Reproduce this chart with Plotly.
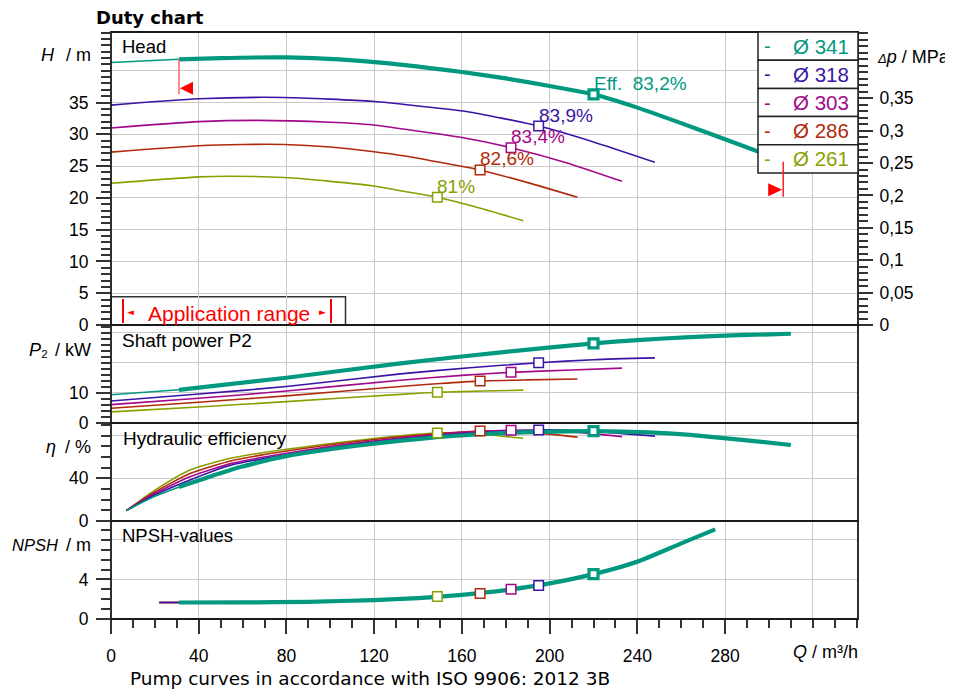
import numpy as np
import plotly.graph_objects as go

# ---------------- data ----------------
diameters = ["Ø 341", "Ø 318", "Ø 303", "Ø 286", "Ø 261"]
colors = ["#00997f", "#3a14a6", "#a4088a", "#b02a0c", "#8a9f00"]
eff_labels = ["Eff.\u00a0\u00a083,2%", "83,9%", "83,4%", "82,6%", "81%"]

# Head H / m
head_q_341 = [0, 31, 50, 80, 104, 134, 160, 180, 200, 220, 240, 266, 295, 310]
head_h_341 = [41.3, 41.8, 42.0, 42.1, 41.8, 40.9, 39.8, 38.8, 37.6, 36.3, 34.2, 31.0, 27.3, 25.2]
head_q_318 = [0, 40, 79, 119, 134, 162, 195, 220, 248]
head_h_318 = [34.6, 35.6, 35.8, 35.2, 34.7, 33.6, 31.3, 28.8, 25.6]
head_q_303 = [0, 40, 67, 100, 119, 134, 160, 182.4, 208, 233]
head_h_303 = [31.0, 32.0, 32.2, 31.9, 31.5, 30.8, 29.5, 27.9, 25.5, 22.6]
head_q_286 = [0, 40, 60, 79, 100, 119, 134, 150, 168.3, 190, 212.7]
head_h_286 = [27.2, 28.2, 28.4, 28.4, 28.0, 27.3, 26.6, 25.6, 24.4, 22.4, 20.1]
head_q_261 = [0, 40, 54, 79, 100, 119, 134, 148.8, 168, 188]
head_h_261 = [22.3, 23.3, 23.4, 23.2, 22.6, 21.9, 21.0, 20.1, 18.4, 16.4]

# Shaft power P2 / kW
pow_q_341 = [0, 31, 80, 132, 180, 220, 240, 264, 290, 310]
pow_p_341 = [9.4, 11.0, 15.0, 19.8, 23.6, 26.4, 27.5, 28.5, 29.2, 29.6]
pow_q_318 = [0, 40, 80, 132, 165, 195, 220, 248]
pow_p_318 = [7.3, 9.6, 12.1, 16.3, 18.4, 20.0, 21.0, 21.6]
pow_q_303 = [0, 40, 80, 132, 160, 182.4, 210, 233]
pow_p_303 = [6.1, 8.2, 10.6, 14.2, 15.8, 16.8, 17.6, 18.2]
pow_q_286 = [0, 40, 80, 132, 150, 168.3, 190, 212.7]
pow_p_286 = [4.9, 6.9, 9.0, 12.1, 13.1, 13.9, 14.3, 14.6]
pow_q_261 = [0, 40, 80, 132, 148.8, 170, 188]
pow_p_261 = [3.7, 5.3, 7.1, 9.5, 10.2, 10.6, 10.9]

# Hydraulic efficiency / %
eff_q_341 = [7, 19, 31, 45, 59, 80, 112, 141, 170, 195, 220, 245, 264, 290, 310]
eff_e_341 = [9.7, 22.2, 31.8, 41.5, 50.5, 60.8, 70.5, 77.0, 81.5, 83.5, 84.2, 83.0, 80.6, 75.5, 71.2]
eff_q_318 = [7, 19, 36, 55, 80, 110, 141, 170, 195, 220, 248]
eff_e_318 = [9.7, 23.5, 38.5, 52.5, 62.0, 71.5, 78.5, 83.0, 85.3, 84.0, 79.5]
eff_q_303 = [7, 19, 36, 55, 80, 110, 141, 160, 182.4, 210, 233]
eff_e_303 = [9.7, 24.8, 41.5, 54.0, 63.5, 72.5, 79.5, 83.0, 85.0, 83.5, 79.0]
eff_q_286 = [7, 19, 36, 55, 80, 110, 141, 168.3, 190, 212.7]
eff_e_286 = [9.7, 26.0, 44.5, 56.5, 65.5, 74.0, 80.5, 84.3, 83.0, 78.6]
eff_q_261 = [7, 19, 36, 55, 80, 110, 130, 148.8, 170, 188]
eff_e_261 = [9.7, 27.5, 47.8, 59.0, 67.2, 75.0, 79.5, 82.5, 81.0, 77.5]

# NPSH / m
npsh_q_341 = [31, 60, 90, 120, 140, 160, 180, 200, 220, 240, 260, 275.5]
npsh_n_341 = [1.67, 1.68, 1.74, 1.92, 2.12, 2.45, 2.92, 3.6, 4.54, 5.8, 7.65, 9.07]
npsh_q_318 = [22, 31, 60, 90, 120, 140, 160, 180, 200, 220, 248]
npsh_n_318 = [1.67, 1.67, 1.68, 1.74, 1.92, 2.12, 2.45, 2.92, 3.6, 4.54, 6.5]
npsh_q_303 = [22, 31, 60, 90, 120, 140, 160, 180, 200, 233]
npsh_n_303 = [1.67, 1.67, 1.68, 1.74, 1.92, 2.12, 2.45, 2.92, 3.6, 5.35]
npsh_q_286 = [22, 31, 60, 90, 120, 140, 160, 180, 212.7]
npsh_n_286 = [1.67, 1.67, 1.68, 1.74, 1.92, 2.12, 2.45, 2.92, 4.2]
npsh_q_261 = [22, 31, 60, 90, 120, 140, 160, 188]
npsh_n_261 = [1.67, 1.67, 1.68, 1.74, 1.92, 2.12, 2.45, 3.15]

# duty points (best efficiency points)
bep_q = [220, 195, 182.4, 168.3, 148.8]
bep_head = [36.3, 31.3, 27.9, 24.4, 20.1]
bep_power = [26.4, 20.0, 16.8, 13.9, 10.2]
bep_eff = [84.2, 85.3, 85.0, 84.3, 82.5]
bep_npsh = [4.54, 3.39, 3.0, 2.58, 2.27]

# application range of the selected impeller (Q, m3/h)
app_range_q = [31, 306.5]

x_ticks = [0, 40, 80, 120, 160, 200, 240, 280, 320]
x_ticktext = ["0", "40", "80", "120", "160", "200", "240", "280", ""]
head_ticks = [0, 5, 10, 15, 20, 25, 30, 35, 40]
head_ticktext = ["0", "5", "10", "15", "20", "25", "30", "35", ""]
dp_ticks = [0, 0.05, 0.1, 0.15, 0.2, 0.25, 0.3, 0.35, 0.4, 0.45]
dp_ticktext = ["0", "0,05", "0,1", "0,15", "0,2", "0,25", "0,3", "0,35", "", ""]
pow_ticks = [0, 10, 20, 30]
pow_ticktext = ["0", "10", "", ""]
eff_ticks = [0, 40, 80]
eff_ticktext = ["0", "40", ""]
npsh_ticks = [0, 4, 8]
npsh_ticktext = ["0", "4", ""]

head_q = [head_q_341, head_q_318, head_q_303, head_q_286, head_q_261]
head_h = [head_h_341, head_h_318, head_h_303, head_h_286, head_h_261]
pow_q = [pow_q_341, pow_q_318, pow_q_303, pow_q_286, pow_q_261]
pow_p = [pow_p_341, pow_p_318, pow_p_303, pow_p_286, pow_p_261]
eff_q = [eff_q_341, eff_q_318, eff_q_303, eff_q_286, eff_q_261]
eff_e = [eff_e_341, eff_e_318, eff_e_303, eff_e_286, eff_e_261]
npsh_q = [npsh_q_341, npsh_q_318, npsh_q_303, npsh_q_286, npsh_q_261]
npsh_n = [npsh_n_341, npsh_n_318, npsh_n_303, npsh_n_286, npsh_n_261]

# ---------------- figure ----------------
FONT = "Liberation Sans, Arial, sans-serif"
VFONT = "DejaVu Sans, Verdana, sans-serif"
OFF = 8                       # page body margin of the html page
PX0, PX1, PY0, PY1 = 111, 858, 32, 619   # plot area in page pixels
W, H = 953 - OFF, 693 - OFF
L, T = PX0 - OFF, PY0 - OFF
PW, PH = PX1 - PX0, PY1 - PY0
R, B = W - L - PW, H - T - PH


def px(xp):
    return (xp - PX0) / PW


def py(yp):
    return (PY1 - yp) / PH


b1, b2, b3 = 98 / PH, 196 / PH, 294 / PH
RHO_G = 0.00981  # MPa per metre of head
HEAD_MAX = 46.1

fig = go.Figure()
panels = [("x", "y", head_q, head_h, bep_head),
          ("x2", "y2", pow_q, pow_p, bep_power),
          ("x3", "y3", eff_q, eff_e, bep_eff),
          ("x4", "y4", npsh_q, npsh_n, bep_npsh)]

for xa, ya, qs, vs, bep in panels:
    for i in range(4, -1, -1):
        q = np.array(qs[i], dtype=float)
        v = np.array(vs[i], dtype=float)
        if i == 0:
            thin = q <= app_range_q[0]
            thick = q >= app_range_q[0]
            if thin.sum() >= 2:
                fig.add_trace(go.Scatter(x=q[thin], y=v[thin], mode="lines",
                                         line=dict(color=colors[i], width=1.5, shape="spline", smoothing=0.6),
                                         xaxis=xa, yaxis=ya, hoverinfo="skip", showlegend=False))
            fig.add_trace(go.Scatter(x=q[thick], y=v[thick], mode="lines",
                                     line=dict(color=colors[i], width=4.2, shape="spline", smoothing=0.6),
                                     xaxis=xa, yaxis=ya, hoverinfo="skip", showlegend=False))
        else:
            fig.add_trace(go.Scatter(x=q, y=v, mode="lines",
                                     line=dict(color=colors[i], width=1.6, shape="spline", smoothing=0.6),
                                     xaxis=xa, yaxis=ya, hoverinfo="skip", showlegend=False))
    for i in range(4, -1, -1):
        fig.add_trace(go.Scatter(x=[bep_q[i]], y=[bep[i]], mode="markers",
                                 marker=dict(symbol="square", size=9.5 if i else 9,
                                             color="white",
                                             line=dict(color=colors[i], width=1.5 if i else 3.2)),
                                 xaxis=xa, yaxis=ya, hoverinfo="skip", showlegend=False))

# pressure scale (Δp = ρ·g·H) of the selected curve, invisible, carries the right axis
fig.add_trace(go.Scatter(x=head_q_341, y=[h * RHO_G for h in head_h_341], mode="lines",
                         line=dict(width=0, color="rgba(0,0,0,0)"), xaxis="x", yaxis="y5",
                         hoverinfo="skip", showlegend=False))

tick_col = "#333333"
grid_col = "#cacaca"


def xax(anchor, labels=False):
    d = dict(domain=[0, 1], anchor=anchor, range=[0, 340.6], tickmode="array",
             tickvals=x_ticks, showgrid=True, gridcolor=grid_col, gridwidth=1,
             zeroline=False, showline=False, fixedrange=True)
    if labels:
        d.update(ticktext=x_ticktext, ticks="outside", ticklen=14, tickwidth=1.5,
                 tickcolor=tick_col, ticklabelstandoff=7,
                 tickfont=dict(family=FONT, size=17.5, color="black"),
                 minor=dict(tickmode="array", tickvals=list(range(0, 341, 10)), ticks="outside",
                            ticklen=8, tickwidth=1.5, tickcolor=tick_col, showgrid=False))
    else:
        d.update(showticklabels=False, ticks="")
    return d


def yax(anchor, dom, rng, tv, tt, minor_vals):
    return dict(domain=dom, anchor=anchor, range=rng, tickmode="array", tickvals=tv,
                ticktext=tt, showgrid=True, gridcolor=grid_col, gridwidth=1, zeroline=False,
                showline=False, ticks="outside", ticklen=14, tickwidth=1.5, tickcolor=tick_col,
                ticklabelstandoff=4,
                tickfont=dict(family=FONT, size=17.5, color="black"), fixedrange=True,
                minor=dict(tickmode="array", tickvals=minor_vals, ticks="outside", ticklen=9,
                           tickwidth=1.5, tickcolor=tick_col, showgrid=False))


fig.update_layout(
    width=W, height=H, margin=dict(l=L, r=R, t=T, b=B, autoexpand=False),
    paper_bgcolor="white", plot_bgcolor="white", showlegend=False,
    font=dict(family=FONT, size=17.5, color="black"),
    xaxis=xax("y"), xaxis2=xax("y2"), xaxis3=xax("y3"), xaxis4=xax("y4", True),
    yaxis=yax("x", [b3, 1], [0, HEAD_MAX], head_ticks, head_ticktext, list(range(0, 47))),
    yaxis2=yax("x2", [b2, b3], [0, 32.5], pow_ticks, pow_ticktext, list(range(0, 33, 2))),
    yaxis3=yax("x3", [b1, b2], [0, 91.8], eff_ticks, eff_ticktext, list(range(0, 91, 10))),
    yaxis4=yax("x4", [0, b1], [0, 9.92], npsh_ticks, npsh_ticktext, list(range(0, 10))),
    yaxis5=dict(overlaying="y", side="right", anchor="x", range=[0, HEAD_MAX * RHO_G],
                tickmode="array", tickvals=dp_ticks, ticktext=dp_ticktext, showgrid=False,
                zeroline=False, showline=False, ticks="outside", ticklen=14, tickwidth=1.5,
                tickcolor=tick_col, tickfont=dict(family=FONT, size=17.5, color="black"),
                ticklabelstandoff=3, fixedrange=True,
                minor=dict(tickmode="array", tickvals=[round(0.01 * k, 2) for k in range(0, 46)],
                           ticks="outside", ticklen=9, tickwidth=1.5, tickcolor=tick_col,
                           showgrid=False)),
)

shapes = []
# application range box (bottom of head panel)
shapes.append(dict(type="rect", xref="paper", yref="paper", x0=0, x1=px(345.5), y0=b3, y1=py(296.7),
                   line=dict(color="#333333", width=1.5), fillcolor="white", layer="between"))
for xb in (123, 331):
    shapes.append(dict(type="line", xref="paper", yref="paper", x0=px(xb), x1=px(xb),
                       y0=py(323), y1=py(299), line=dict(color="#ff0000", width=2)))
# panel frames
for y0, y1 in ((b3, 1), (b2, b3), (b1, b2), (0, b1)):
    shapes.append(dict(type="rect", xref="paper", yref="paper", x0=0, x1=1, y0=y0, y1=y1,
                       line=dict(color="#1a1a1a", width=1.8), fillcolor="rgba(0,0,0,0)", layer="above"))
# legend box
row_h = 28.2
for i in range(5):
    top = 32 + row_h * i
    shapes.append(dict(type="rect", xref="paper", yref="paper", x0=px(758), x1=1,
                       y0=py(top + row_h), y1=py(top), line=dict(color="#222222", width=1.5),
                       fillcolor="white", layer="above"))
# application range markers on the head curve
top_lo = float(np.interp(app_range_q[0], head_q_341, head_h_341))
top_hi = float(np.interp(app_range_q[1], head_q_341, head_h_341))
shapes.append(dict(type="line", xref="x", yref="y", x0=app_range_q[0], x1=app_range_q[0],
                   ysizemode="pixel", yanchor=top_lo, y0=0, y1=-35,
                   line=dict(color="#ff6464", width=1.5), layer="above"))
shapes.append(dict(type="path", xref="x", yref="y", xsizemode="pixel", ysizemode="pixel",
                   xanchor=app_range_q[0], yanchor=top_lo,
                   path="M 1,-29 L 14,-22.5 L 14,-35.5 Z", fillcolor="#ff0000",
                   line=dict(width=0), layer="above"))
shapes.append(dict(type="line", xref="x", yref="y", x0=app_range_q[1], x1=app_range_q[1],
                   ysizemode="pixel", yanchor=top_hi, y0=0, y1=-35,
                   line=dict(color="#ff2020", width=1.5), layer="above"))
shapes.append(dict(type="path", xref="x", yref="y", xsizemode="pixel", ysizemode="pixel",
                   xanchor=app_range_q[1], yanchor=top_hi,
                   path="M -1,-28 L -15,-21.5 L -15,-34.5 Z", fillcolor="#ff0000",
                   line=dict(width=0), layer="above"))
fig.update_layout(shapes=shapes)

ann = []


def A(text, x, y, xanchor="left", size=18, color="black", family=FONT, **kw):
    d = dict(text=text, x=x, y=y, xref="paper", yref="paper", xanchor=xanchor, yanchor="middle",
             showarrow=False, font=dict(family=family, size=size, color=color))
    d.update(kw)
    ann.append(d)


A("<b>Duty chart</b>", px(95), py(17), size=18, family=VFONT, borderpad=0)
A("Pump curves in accordance with ISO 9906: 2012 3B", px(128), py(678), size=18.5, family=VFONT)
A("Head", px(120), py(46), size=18.5)
A("Shaft power P2", px(120), py(340), size=19)
A("Hydraulic efficiency", px(121), py(438), size=19)
A("NPSH-values", px(120), py(535), size=18.5)
# axis titles
A("<i>H</i>", px(57), py(55), xanchor="right")
A("/ m", px(93), py(55), xanchor="right")
A("<i>P</i>₂", px(50), py(350), xanchor="right")
A("/ kW", px(93), py(350), xanchor="right")
A("<i>η</i>", px(58), py(447), xanchor="right")
A("/ %", px(93), py(447), xanchor="right")
A("<i>NPSH</i>", px(60), py(545), xanchor="right", size=16.5)
A("/ m", px(93), py(545), xanchor="right")
A("<span style='font-size:13px'><i>Δ</i></span><i>p</i> / MPa", px(875), py(57))
A("<i>Q</i> / m³/h", px(860), py(652), xanchor="right")
# application range text
A("◄", px(130), py(312), xanchor="center", size=9, color="#ff0000", family=VFONT)
A("Application range", px(228.5), py(313), xanchor="center", size=21, color="#ff0000")
A("►", px(322.5), py(312), xanchor="center", size=9, color="#ff0000", family=VFONT)
# legend
for i in range(5):
    cy = 32 + row_h * i + row_h / 2
    A("-", px(767), py(cy), xanchor="center", size=20, color=colors[i])
    A(diameters[i], px(851), py(cy), xanchor="right", size=20.5, color=colors[i])
# efficiency labels at duty points
for i in range(5):
    ann.append(dict(text=eff_labels[i], x=bep_q[i], y=bep_head[i], xref="x", yref="y",
                    xanchor="left", yanchor="middle", xshift=-2, yshift=11, showarrow=False,
                    font=dict(family=FONT, size=19, color=colors[i])))
fig.update_layout(annotations=ann)

fig.write_html("out.html")
